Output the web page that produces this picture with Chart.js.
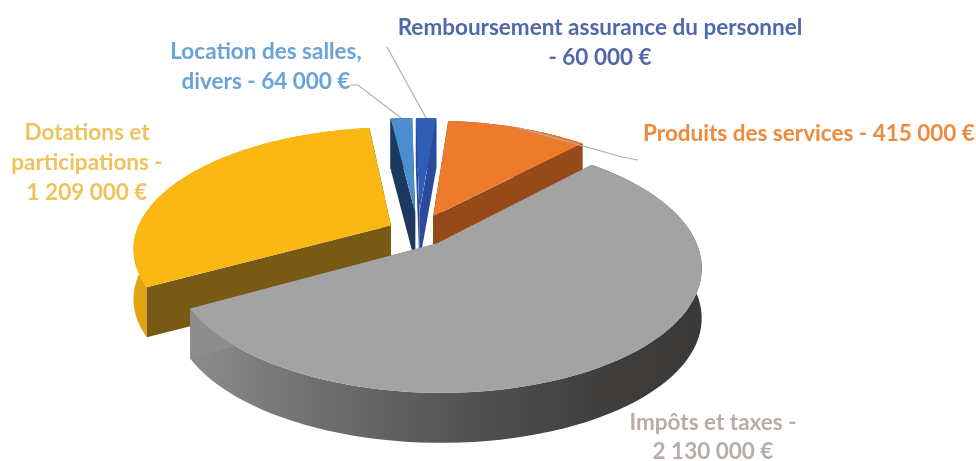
<!DOCTYPE html>
<html lang="fr">
<head>
<meta charset="utf-8">
<title>Recettes</title>
<script src="https://cdn.jsdelivr.net/npm/chart.js@4"></script>
<style>
  html, body { margin: 0; padding: 0; background: #fff; }
  canvas { display: block; filter: blur(0.7px); }
</style>
</head>
<body>
<canvas id="pie" width="976" height="461"></canvas>
<script>
// values, clockwise from the top
const categories = ['Remboursement assurance du personnel', 'Produits des services', 'Impôts et taxes', 'Dotations et participations', 'Location des salles, divers'];
const amounts = [60000, 415000, 2130000, 1209000, 64000];

// label text, one entry per line
const labelLines = [
    ['Remboursement assurance du personnel', '- 60 000 €'],
    ['Produits des services - 415 000 €'],
    ['Impôts et taxes -', '2 130 000 €'],
    ['Dotations et', 'participations -', '1 209 000 €'],
    ['Location des salles,', 'divers - 64 000 €']
];

// styles
const topColors = ['#2f5fb4', '#ee7a2b', '#a3a3a3', '#fbb712', '#4c8fd0'];
const cutColors = ['#2a4a9c', '#964a1a', '#8d8d8d', '#785a14', '#1b3a5e'];
const labelColors = ['#4f68a8', '#ee8a3c', '#b7aca7', '#eec35c', '#69a3d8'];
const explode = [0.17, 0.15, 0.12, 0.12, 0.17];
const drawOrder = [4, 0, 3, 1, 2];

// label anchors: centre x, first baseline, line height
const labelPos = [
    { x: 600, y: 35, lh: 30 },
    { x: 809, y: 141, lh: 30 },
    { x: 713, y: 430, lh: 29 },
    { x: 87, y: 140, lh: 30 },
    { x: 266, y: 59, lh: 30 }
];
// where the leader line leaves the label, last point first (null = no leader)
const leaderEnds = [[[387, 47]], [[622, 157], [638, 160]], null, null, [[358, 85], [350, 85]]];

// camera for the tilted disc
const camX = 418, camY = 232, camA = 255, camB = 118, persp = 0.18;
const depth = 50;

function project(u, v) {
    const w = 1 - persp * v;
    return { x: camX + camA * u / w, y: camY + camB * v / w };
}

// apex and rim of a slice on the tilted disc
function sliceOutline(arc, e) {
    const mid = (arc.startAngle + arc.endAngle) / 2;
    const ex = e * Math.cos(mid), ey = e * Math.sin(mid);
    const rim = [];
    for (let k = 0; k <= 80; k++) {
        const a = arc.startAngle + (arc.endAngle - arc.startAngle) * k / 80;
        rim.push(project(ex + Math.cos(a), ey + Math.sin(a)));
    }
    return { apex: project(ex, ey), rim };
}

// affine matrix that opens the flat arc over the slice, the outline clip then trims it
function coverMatrix(arc, shape) {
    const { x, y, startAngle, endAngle, outerRadius: R } = arc;
    const t0 = shape.apex, t1 = shape.rim[0], t2 = shape.rim[80];
    const k = 2.5 / R;
    const c1 = Math.cos(startAngle), s1 = Math.sin(startAngle), c2 = Math.cos(endAngle), s2 = Math.sin(endAngle);
    const det = c1 * s2 - c2 * s1;
    const ax = t1.x - t0.x, ay = t1.y - t0.y, bx = t2.x - t0.x, by = t2.y - t0.y;
    const a = (ax * s2 - bx * s1) / det * k;
    const c = (bx * c1 - ax * c2) / det * k;
    const b = (ay * s2 - by * s1) / det * k;
    const d = (by * c1 - ay * c2) / det * k;
    return { a, b, c, d, e: t0.x - a * x - c * y, f: t0.y - b * x - d * y };
}

function rimFill(ctx, i) {
    if (i === 2) { // the big slice goes dark to the right
        const g = ctx.createLinearGradient(185, 0, 700, 0);
        g.addColorStop(0, '#8d8d8d');
        g.addColorStop(0.25, '#707070');
        g.addColorStop(0.55, '#525252');
        g.addColorStop(0.8, '#403f3e');
        g.addColorStop(1, '#3a3938');
        return g;
    }
    if (i === 3) return '#dfa511';
    return cutColors[i];
}

function fillQuad(ctx, p, q, color) {
    ctx.fillStyle = color;
    ctx.beginPath();
    ctx.moveTo(p.x, p.y);
    ctx.lineTo(q.x, q.y);
    ctx.lineTo(q.x, q.y + depth);
    ctx.lineTo(p.x, p.y + depth);
    ctx.closePath();
    ctx.fill();
}

function drawWalls(ctx, shape, i) {
    const { apex, rim } = shape;
    ctx.fillStyle = rimFill(ctx, i);
    ctx.beginPath();
    rim.forEach((p, k) => k ? ctx.lineTo(p.x, p.y) : ctx.moveTo(p.x, p.y));
    rim.slice().reverse().forEach(p => ctx.lineTo(p.x, p.y + depth));
    ctx.closePath();
    ctx.fill();
    fillQuad(ctx, apex, rim[0], cutColors[i]);
    fillQuad(ctx, apex, rim[80], cutColors[i]);
}

const pie3d = {
    id: 'pie3d',
    beforeDatasetsDraw(chart) {
        const ctx = chart.ctx;
        const arcs = chart.getDatasetMeta(0).data;
        drawOrder.forEach(i => {
            const shape = sliceOutline(arcs[i], explode[i]);
            const m = coverMatrix(arcs[i], shape);
            drawWalls(ctx, shape, i);
            ctx.save();
            ctx.beginPath();
            ctx.moveTo(shape.apex.x, shape.apex.y);
            shape.rim.forEach(p => ctx.lineTo(p.x, p.y));
            ctx.closePath();
            ctx.clip();
            ctx.transform(m.a, m.b, m.c, m.d, m.e, m.f);
            arcs[i].draw(ctx);
            ctx.restore();
        });
        return false; // the default flat drawing is not wanted
    },
    afterDraw(chart) {
        const ctx = chart.ctx;
        const arcs = chart.getDatasetMeta(0).data;
        ctx.save();
        ctx.strokeStyle = '#b9aaa3';
        ctx.lineWidth = 1.2;
        leaderEnds.forEach((pts, i) => {
            if (!pts) return;
            const mid = (arcs[i].startAngle + arcs[i].endAngle) / 2;
            const e = explode[i];
            const p = project((1 + e) * Math.cos(mid), (1 + e) * Math.sin(mid));
            ctx.beginPath();
            ctx.moveTo(p.x, p.y);
            pts.forEach(pt => ctx.lineTo(pt[0], pt[1]));
            ctx.stroke();
        });
        ctx.font = 'bold 22.5px Lato, sans-serif';
        ctx.textAlign = 'center';
        ctx.textBaseline = 'alphabetic';
        labelLines.forEach((lines, i) => {
            ctx.fillStyle = labelColors[i];
            lines.forEach((line, k) => {
                ctx.fillText(line, labelPos[i].x, labelPos[i].y + k * labelPos[i].lh);
            });
        });
        ctx.restore();
    }
};

document.addEventListener('DOMContentLoaded', () => {
    new Chart(document.getElementById('pie').getContext('2d'), {
        type: 'pie',
        data: {
            labels: categories,
            datasets: [{
                data: amounts,
                backgroundColor: topColors,
                borderWidth: 0
            }]
        },
        options: {
            responsive: false,
            animation: false,
            rotation: -0.9,
            plugins: { legend: { display: false }, tooltip: { enabled: false } }
        },
        plugins: [pie3d]
    });
});
</script>
</body>
</html>
